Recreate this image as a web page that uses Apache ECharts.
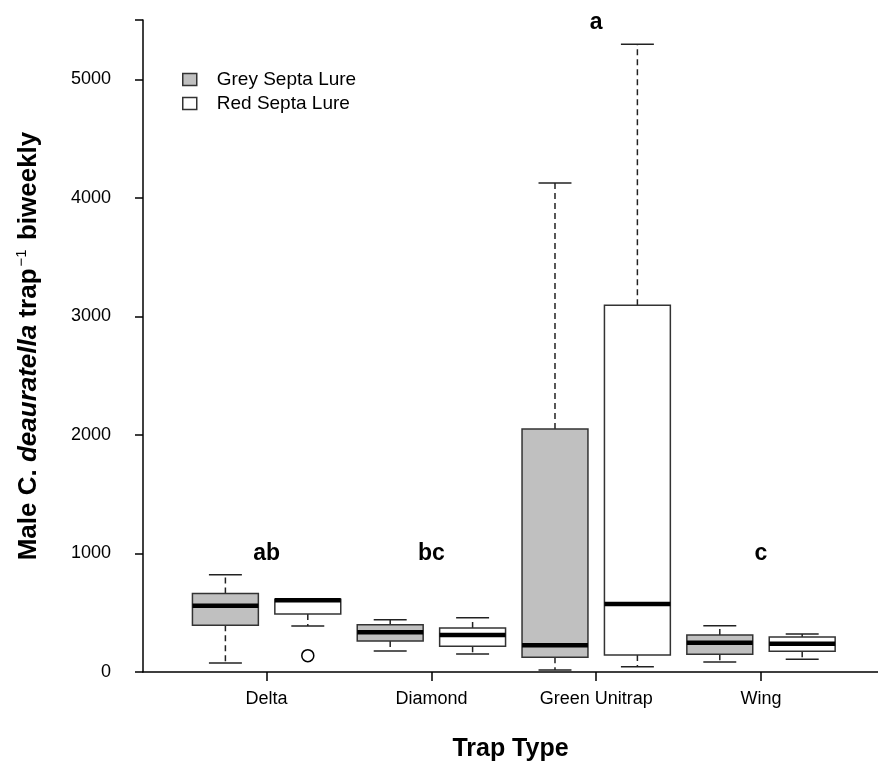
<!DOCTYPE html>
<html>
<head>
<meta charset="utf-8">
<script src="https://cdn.jsdelivr.net/npm/echarts@6/dist/echarts.min.js"></script>
<style>
html,body{margin:0;padding:0;background:#fff;}
#chart{width:878px;height:767px;}
</style>
</head>
<body>
<div id="chart"></div>
<script>
// ---- data ----
const categories = ['Delta', 'Diamond', 'Green Unitrap', 'Wing'];
// [min, q1, median, q3, max]
const greyStats = [
  [76, 394, 559, 663, 820],
  [177, 261, 335, 399, 441],
  [17, 124, 225, 2049, 4125],
  [84, 149, 247, 312, 391]
];
const redStats = [
  [388, 489, 605, 613, 613],
  [152, 217, 312, 371, 458],
  [45, 143, 573, 3094, 5295],
  [107, 174, 239, 295, 320]
];
// [category index, value]
const redOutliers = [[0, 138]];
const groupLetters = ['ab', 'bc', 'a', 'c'];
const letterValues = [1000, 1000, 5480, 1000];
const yTicks = [0, 1000, 2000, 3000, 4000, 5000, 5500];
const yLabels = [0, 1000, 2000, 3000, 4000, 5000];

const FONT = 'Liberation Sans, Arial, Helvetica, sans-serif';
const OFFSET = 0.25, HALF_W = 0.2, CAP_HALF = 0.1;

function boxData(stats) {
  return stats.map((s, i) => [i + 1].concat(s));
}

function makeRender(offset, fill) {
  return function (params, api) {
    const x = api.value(0) + offset;
    const c = api.coord([x, api.value(1)]);
    const cx = c[0], yMin = c[1];
    const yQ1 = api.coord([x, api.value(2)])[1];
    const yMed = api.coord([x, api.value(3)])[1];
    const yQ3 = api.coord([x, api.value(4)])[1];
    const yMax = api.coord([x, api.value(5)])[1];
    const hw = api.coord([x + HALF_W, 0])[0] - cx;
    const ch = api.coord([x + CAP_HALF, 0])[0] - cx;
    const wStyle = { stroke: '#222', lineWidth: 1.5, lineDash: [6, 4] };
    const cStyle = { stroke: '#222', lineWidth: 1.5 };
    return {
      type: 'group',
      children: [
        { type: 'line', shape: { x1: cx, y1: yQ3, x2: cx, y2: yMax }, style: wStyle },
        { type: 'line', shape: { x1: cx, y1: yQ1, x2: cx, y2: yMin }, style: wStyle },
        { type: 'line', shape: { x1: cx - ch, y1: yMax, x2: cx + ch, y2: yMax }, style: cStyle },
        { type: 'line', shape: { x1: cx - ch, y1: yMin, x2: cx + ch, y2: yMin }, style: cStyle },
        { type: 'rect', shape: { x: cx - hw, y: yQ3, width: 2 * hw, height: yQ1 - yQ3 },
          style: { fill: fill, stroke: '#333', lineWidth: 1.5 } },
        { type: 'line', shape: { x1: cx - hw, y1: yMed, x2: cx + hw, y2: yMed },
          style: { stroke: '#000', lineWidth: 4.5 } }
      ]
    };
  };
}

const chart = echarts.init(document.getElementById('chart'));
chart.setOption({
  backgroundColor: '#fff',
  animation: false,
  textStyle: { fontFamily: FONT },
  grid: { left: 143, right: 0, top: 20, bottom: 94, containLabel: false },
  legend: {
    orient: 'vertical',
    left: 177,
    top: 65,
    itemWidth: 14,
    itemHeight: 12,
    itemGap: 5,
    textStyle: { fontFamily: FONT, fontSize: 19, color: '#000', padding: [0, 0, 0, 15] },
    data: [
      { name: 'Grey Septa Lure', icon: 'rect', itemStyle: { color: '#c0c0c0', borderColor: '#333', borderWidth: 1.5 } },
      { name: 'Red Septa Lure', icon: 'rect', itemStyle: { color: '#fff', borderColor: '#333', borderWidth: 1.5 } }
    ]
  },
  xAxis: {
    type: 'value',
    min: 0.25,
    max: 4.71,
    splitLine: { show: false },
    axisLine: { show: true, onZero: false, lineStyle: { color: '#000', width: 1.5 } },
    axisTick: { show: true, customValues: [1, 2, 3, 4], length: 9, lineStyle: { color: '#000', width: 1.5 } },
    axisLabel: {
      customValues: [1, 2, 3, 4],
      formatter: v => categories[Math.round(v) - 1] || '',
      fontSize: 18, color: '#000', margin: 18, fontFamily: FONT
    },
    name: 'Trap Type',
    nameLocation: 'middle',
    nameGap: 65,
    nameTextStyle: { fontSize: 25, fontWeight: 'bold', color: '#000', fontFamily: FONT }
  },
  yAxis: {
    type: 'value',
    min: 0,
    max: 5500,
    splitLine: { show: false },
    axisLine: { show: true, lineStyle: { color: '#000', width: 1.5 } },
    axisTick: { show: true, customValues: yTicks, length: 8, lineStyle: { color: '#000', width: 1.5 } },
    axisLabel: {
      customValues: yLabels,
      formatter: v => String(v),
      fontSize: 18, color: '#000', margin: 32, fontFamily: FONT
    },
    name: '{b|Male C. }{bi|deauratella}{b| trap}{s|−1}{b| biweekly}',
    nameLocation: 'middle',
    nameGap: 99,
    nameRotate: 90,
    nameTextStyle: {
      color: '#000',
      fontFamily: FONT,
      rich: {
        b: { fontSize: 26, fontWeight: 'bold', color: '#000', fontFamily: FONT, lineHeight: 30 },
        bi: { fontSize: 26, fontWeight: 'bold', fontStyle: 'italic', color: '#000', fontFamily: FONT, lineHeight: 30 },
        s: { fontSize: 15, color: '#000', fontFamily: FONT, verticalAlign: 'top', lineHeight: 30, padding: [0, 2, 12, 2] }
      }
    }
  },
  series: [
    {
      name: 'Grey Septa Lure',
      type: 'custom',
      renderItem: makeRender(-OFFSET, '#c0c0c0'),
      itemStyle: { color: '#c0c0c0', borderColor: '#333' },
      encode: { x: 0, y: [1, 2, 3, 4, 5] },
      data: boxData(greyStats),
      z: 2
    },
    {
      name: 'Red Septa Lure',
      type: 'custom',
      renderItem: makeRender(OFFSET, '#ffffff'),
      itemStyle: { color: '#ffffff', borderColor: '#333' },
      encode: { x: 0, y: [1, 2, 3, 4, 5] },
      data: boxData(redStats),
      z: 2
    },
    {
      name: 'outliers',
      type: 'scatter',
      symbol: 'circle',
      symbolSize: 12,
      itemStyle: { color: '#fff', borderColor: '#000', borderWidth: 1.5, opacity: 1 },
      data: redOutliers.map(o => [o[0] + 1 + OFFSET, o[1]]),
      z: 3
    },
    {
      name: 'letters',
      type: 'scatter',
      symbolSize: 1,
      itemStyle: { color: 'rgba(0,0,0,0)', opacity: 1 },
      label: {
        show: true,
        position: 'inside',
        formatter: p => groupLetters[p.dataIndex],
        fontSize: 23, fontWeight: 'bold', color: '#000', opacity: 1, fontFamily: FONT
      },
      data: letterValues.map((v, i) => [i + 1, v]),
      z: 4
    }
  ]
});
</script>
</body>
</html>
